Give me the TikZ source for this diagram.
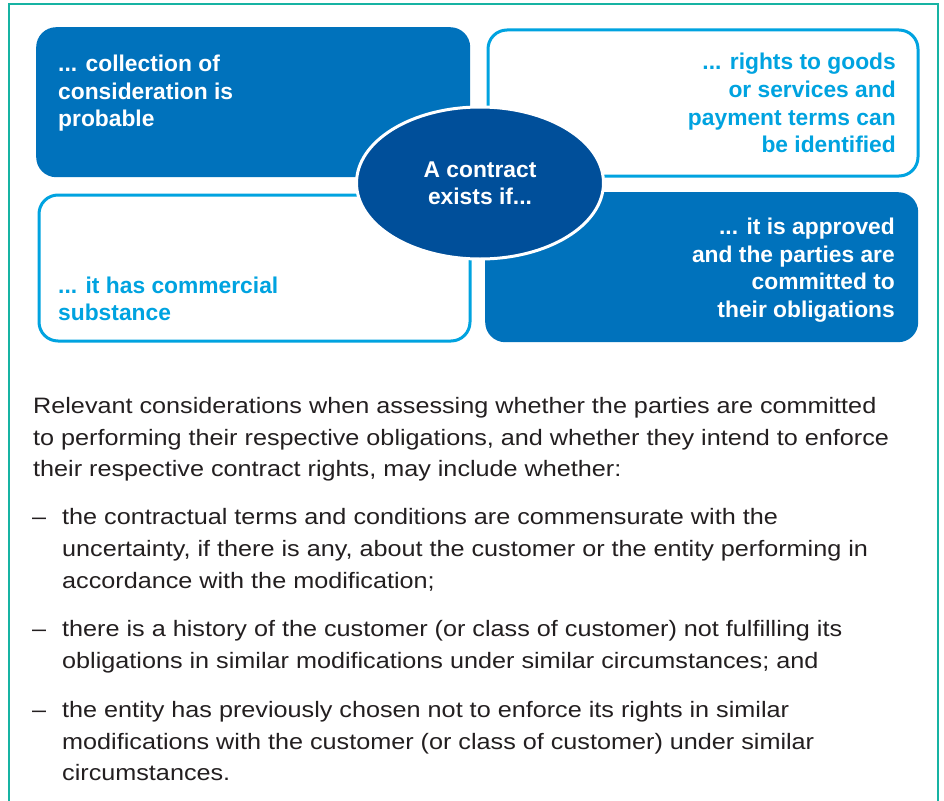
\documentclass[tikz,border=0pt]{standalone}
\usepackage{fontspec}
\setmainfont{Liberation Sans}
\newfontfamily\bodyfont[FakeStretch=1.13]{Liberation Sans}
\usetikzlibrary{shapes.geometric}
\definecolor{framecol}{HTML}{17B3A3}
\definecolor{darkfill}{HTML}{0072BC}
\definecolor{lightcol}{HTML}{00A3E0}
\definecolor{ellfill}{HTML}{004F9A}
\definecolor{bodycol}{HTML}{231F20}
\tikzset{
  darkbox/.style={rectangle, rounded corners=20pt, fill=darkfill, draw=none, anchor=north west, inner sep=0pt},
  lightbox/.style={rectangle, rounded corners=19pt, fill=white, draw=lightcol, line width=3pt, anchor=north west, inner sep=0pt},
  boxtext/.style={inner sep=0pt, font=\fontsize{22.8pt}{27pt}\selectfont\bfseries},
  whitetext/.style={boxtext, text=white},
  bluetext/.style={boxtext, text=lightcol},
  bodyline/.style={inner sep=0pt, anchor=base west, text=bodycol, font=\fontsize{22.3pt}{32pt}\bodyfont}
}
\begin{document}
\begin{tikzpicture}[x=1pt,y=-1pt]
\useasboundingbox (0,0) rectangle (944,800);
\fill[white] (0,0) rectangle (944,800);
% frame
\draw[framecol, line width=2pt] (9,801) -- (9,4) -- (938,4) -- (938,801);
% four boxes
\node[darkbox, minimum width=434pt, minimum height=150pt] (tl) at (36,27) {};
\node[lightbox, minimum width=430pt, minimum height=146pt] (tr) at (486.5,28.5) {};
\node[lightbox, minimum width=431pt, minimum height=146pt] (bl) at (37.5,193.5) {};
\node[darkbox, minimum width=433pt, minimum height=150pt] (br) at (485,192) {};
% ellipse
\node[ellipse, fill=ellfill, draw=white, line width=3pt, minimum width=247pt, minimum height=152pt, inner sep=0pt] (el) at (480,183) {};
% box texts
\node[whitetext, anchor=base west] (tl1) at (58,71) {... collection of};
\node[whitetext, anchor=base west] (tl2) at (58,99) {consideration is};
\node[whitetext, anchor=base west] (tl3) at (58,126) {probable};
\node[bluetext, anchor=base east] (tr1) at (896,70) {... rights to goods};
\node[bluetext, anchor=base east] (tr2) at (896,97) {or services and};
\node[bluetext, anchor=base east] (tr3) at (896,125) {payment terms can};
\node[bluetext, anchor=base east] (tr4) at (896,152) {be identified};
\node[bluetext, anchor=base west] (bl1) at (58,293) {... it has commercial};
\node[bluetext, anchor=base west] (bl2) at (58,320) {substance};
\node[whitetext, anchor=base east] (br1) at (895,234) {... it is approved};
\node[whitetext, anchor=base east] (br2) at (895,262) {and the parties are};
\node[whitetext, anchor=base east] (br3) at (895,289) {committed to};
\node[whitetext, anchor=base east] (br4) at (895,317) {their obligations};
\node[whitetext, anchor=base] (el1) at (480,177) {A contract};
\node[whitetext, anchor=base] (el2) at (480,204) {exists if...};
% body text
\node[bodyline] (p1) at (33,413) {Relevant considerations when assessing whether the parties are committed};
\node[bodyline] (p2) at (33,445) {to performing their respective obligations, and whether they intend to enforce};
\node[bodyline] (p3) at (33,476) {their respective contract rights, may include whether:};
\node[bodyline] (d1) at (32,524) {–};
\node[bodyline] (a1) at (62,524) {the contractual terms and conditions are commensurate with the};
\node[bodyline] (a2) at (62,556) {uncertainty, if there is any, about the customer or the entity performing in};
\node[bodyline] (a3) at (62,588) {accordance with the modification;};
\node[bodyline] (d2) at (32,636) {–};
\node[bodyline] (b1) at (62,636) {there is a history of the customer (or class of customer) not fulfilling its};
\node[bodyline] (b2) at (62,668) {obligations in similar modifications under similar circumstances; and};
\node[bodyline] (d3) at (32,717) {–};
\node[bodyline] (c1) at (62,717) {the entity has previously chosen not to enforce its rights in similar};
\node[bodyline] (c2) at (62,749) {modifications with the customer (or class of customer) under similar};
\node[bodyline] (c3) at (62,780) {circumstances.};
\end{tikzpicture}
\end{document}
